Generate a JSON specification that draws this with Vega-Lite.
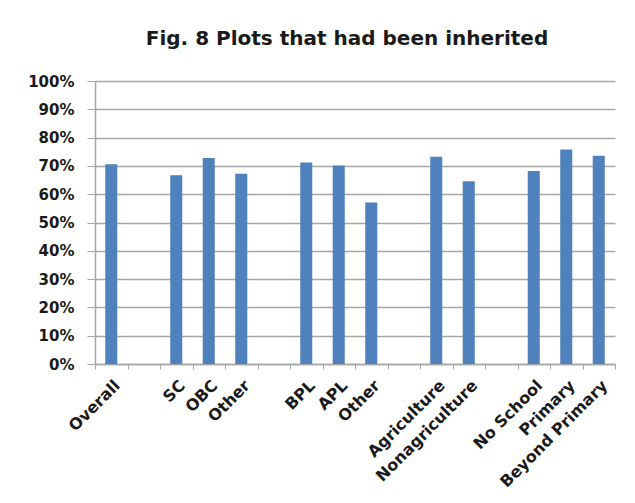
{
  "$schema": "https://vega.github.io/schema/vega-lite/v6.json",
  "autosize": "none",
  "width": 520,
  "height": 283,
  "padding": {"left": 95, "top": 81, "right": 20, "bottom": 139},
  "background": "white",
  "title": {
    "text": "Fig. 8 Plots that had been inherited",
    "font": "DejaVu Sans",
    "fontSize": 20,
    "fontWeight": "bold",
    "color": "#1a1a1a",
    "anchor": "middle",
    "dx": -8,
    "offset": 25
  },
  "data": {
    "values": [
      {"cat": "Overall", "value": 0.706},
      {"cat": "SC", "value": 0.667},
      {"cat": "OBC", "value": 0.728},
      {"cat": "Other", "value": 0.672},
      {"cat": "BPL", "value": 0.712},
      {"cat": "APL", "value": 0.701},
      {"cat": "Other ", "value": 0.571},
      {"cat": "Agriculture", "value": 0.732},
      {"cat": "Nonagriculture", "value": 0.646},
      {"cat": "No School", "value": 0.682},
      {"cat": "Primary", "value": 0.758},
      {"cat": "Beyond Primary", "value": 0.736}
    ]
  },
  "mark": {"type": "bar", "color": "#4F81BD", "width": {"band": 0.37}},
  "encoding": {
    "x": {
      "field": "cat",
      "type": "nominal",
      "sort": null,
      "scale": {
        "domain": ["Overall", " ", "SC", "OBC", "Other", "  ", "BPL", "APL", "Other ", "   ", "Agriculture", "Nonagriculture", "    ", "No School", "Primary", "Beyond Primary"],
        "paddingInner": 0,
        "paddingOuter": 0
      },
      "axis": {
        "title": null,
        "labelAngle": -45,
        "labelFont": "DejaVu Sans",
        "labelFontSize": 16,
        "labelFontWeight": "bold",
        "labelColor": "#1a1a1a",
        "labelPadding": 8,
        "labelDx": -4,
        "labelDy": -2,
        "tickBand": "extent",
        "tickSize": 5,
        "tickColor": "#a6a6a6",
        "domainColor": "#a6a6a6",
        "domainWidth": 1.5,
        "grid": false,
        "labelOverlap": false
      }
    },
    "y": {
      "field": "value",
      "type": "quantitative",
      "scale": {"domain": [0, 1]},
      "axis": {
        "title": null,
        "values": [0, 0.1, 0.2, 0.3, 0.4, 0.5, 0.6, 0.7, 0.8, 0.9, 1],
        "format": ".0%",
        "labelFont": "DejaVu Sans",
        "labelFontSize": 15,
        "labelFontWeight": "bold",
        "labelColor": "#1a1a1a",
        "labelPadding": 13,
        "tickSize": 8,
        "tickColor": "#a6a6a6",
        "domainColor": "#a6a6a6",
        "domainWidth": 1.5,
        "grid": true,
        "gridColor": "#a6a6a6",
        "gridWidth": 1.5
      }
    }
  },
  "config": {"view": {"stroke": null}}
}
